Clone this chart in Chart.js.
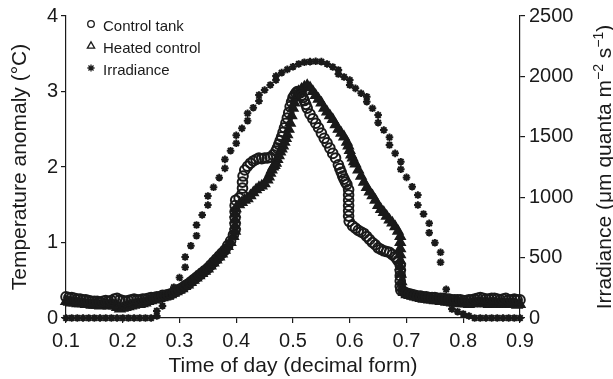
<!DOCTYPE html>
<html lang="en">
<head>
<meta charset="UTF-8">
<title>Temperature anomaly and irradiance</title>
<script src="https://cdn.jsdelivr.net/npm/chart.js@4/dist/chart.umd.min.js"></script>
<style>
  html, body { margin: 0; padding: 0; background: #fff; }
  .wrap { position: relative; width: 613px; height: 379px; }
</style>
</head>
<body>
<div class="wrap"><canvas id="chart"></canvas></div>
<script>
// values (time of day as decimal fraction)
const controlTime = [
  0.100, 0.105, 0.110, 0.115, 0.120, 0.125, 0.130, 0.135, 0.140, 0.145,
  0.150, 0.155, 0.160, 0.165, 0.170, 0.175, 0.180, 0.185, 0.190, 0.195,
  0.200, 0.205, 0.210, 0.215, 0.220, 0.225, 0.230, 0.235, 0.240, 0.245,
  0.250, 0.255, 0.260, 0.265, 0.270, 0.275, 0.280, 0.285, 0.290, 0.295,
  0.300, 0.305, 0.310, 0.315, 0.320, 0.325, 0.330, 0.335, 0.340, 0.345,
  0.350, 0.355, 0.360, 0.365, 0.370, 0.375, 0.380, 0.385, 0.390, 0.395,
  0.398, 0.398, 0.398, 0.398, 0.398, 0.399, 0.405, 0.410, 0.411, 0.411,
  0.412, 0.415, 0.420, 0.425, 0.430, 0.435, 0.440, 0.445, 0.450, 0.455,
  0.460, 0.465, 0.470, 0.4725, 0.475, 0.4775, 0.480, 0.4825, 0.485, 0.4875,
  0.490, 0.4925, 0.495, 0.4975, 0.500, 0.5025, 0.505, 0.5075, 0.510, 0.5125,
  0.515, 0.5175, 0.520, 0.5225, 0.525, 0.530, 0.535, 0.540, 0.545, 0.550,
  0.555, 0.560, 0.565, 0.570, 0.575, 0.580, 0.5825, 0.585, 0.5875, 0.590,
  0.5925, 0.595, 0.598, 0.598, 0.598, 0.598, 0.598, 0.598, 0.599, 0.605,
  0.610, 0.615, 0.620, 0.625, 0.630, 0.635, 0.640, 0.645, 0.650, 0.655,
  0.660, 0.665, 0.670, 0.675, 0.680, 0.6825, 0.685, 0.689, 0.689, 0.689,
  0.689, 0.689, 0.690, 0.695, 0.700,
  0.705, 0.710, 0.715, 0.720, 0.725, 0.730, 0.735, 0.740, 0.745, 0.750,
  0.755, 0.760, 0.765, 0.770, 0.775, 0.780, 0.785, 0.790, 0.795, 0.800,
  0.805, 0.810, 0.815, 0.820, 0.825, 0.830, 0.835, 0.840, 0.845, 0.850,
  0.855, 0.860, 0.865, 0.870, 0.875, 0.880, 0.885, 0.890, 0.895, 0.900
];
const controlTemp = [
  0.28, 0.27, 0.27, 0.26, 0.25, 0.25, 0.24, 0.24, 0.23, 0.22,
  0.22, 0.22, 0.21, 0.22, 0.23, 0.22, 0.23, 0.25, 0.26, 0.24,
  0.23, 0.22, 0.23, 0.24, 0.25, 0.24, 0.24, 0.25, 0.25, 0.26,
  0.27, 0.27, 0.28, 0.28, 0.30, 0.30, 0.31, 0.32, 0.34, 0.36,
  0.38, 0.40, 0.43, 0.45, 0.48, 0.51, 0.54, 0.57, 0.60, 0.63,
  0.66, 0.70, 0.74, 0.78, 0.82, 0.86, 0.90, 0.96, 1.02, 1.10,
  1.17, 1.25, 1.33, 1.41, 1.49, 1.56, 1.59, 1.64, 1.72, 1.80,
  1.88, 1.96, 2.01, 2.05, 2.08, 2.10, 2.12, 2.11, 2.12, 2.12,
  2.13, 2.16, 2.21, 2.25, 2.30, 2.35, 2.40, 2.46, 2.52, 2.58,
  2.65, 2.72, 2.80, 2.86, 2.92, 2.95, 2.98, 3.00, 3.00, 2.98,
  2.95, 2.92, 2.88, 2.83, 2.78, 2.70, 2.64, 2.58, 2.52, 2.45,
  2.38, 2.32, 2.25, 2.18, 2.12, 2.03, 1.98, 1.93, 1.88, 1.84,
  1.80, 1.77, 1.70, 1.63, 1.56, 1.49, 1.42, 1.35, 1.28, 1.22,
  1.19, 1.16, 1.14, 1.12, 1.08, 1.04, 1.00, 0.97, 0.93, 0.91,
  0.89, 0.88, 0.87, 0.84, 0.81, 0.79, 0.76, 0.70, 0.63, 0.56,
  0.49, 0.42, 0.37, 0.35, 0.33,
  0.32, 0.31, 0.30, 0.29, 0.29, 0.28, 0.28, 0.27, 0.27, 0.27,
  0.26, 0.26, 0.26, 0.25, 0.25, 0.24, 0.24, 0.24, 0.24, 0.23,
  0.23, 0.24, 0.24, 0.25, 0.26, 0.27, 0.26, 0.25, 0.25, 0.26,
  0.26, 0.25, 0.24, 0.25, 0.26, 0.24, 0.24, 0.25, 0.24, 0.24
];

const heatedTime = [
  0.100, 0.105, 0.110, 0.115, 0.120, 0.125, 0.130, 0.135, 0.140, 0.145,
  0.150, 0.155, 0.160, 0.165, 0.170, 0.175, 0.180, 0.185, 0.190, 0.195,
  0.200, 0.205, 0.210, 0.215, 0.220, 0.225, 0.230, 0.235, 0.240, 0.245,
  0.250, 0.255, 0.260, 0.265, 0.270, 0.275, 0.280, 0.285, 0.290, 0.295,
  0.300, 0.305, 0.310, 0.315, 0.320, 0.325, 0.330, 0.335, 0.340, 0.345,
  0.350, 0.355, 0.360, 0.365, 0.370, 0.375, 0.380, 0.385, 0.390, 0.395,
  0.398, 0.398, 0.398, 0.398, 0.399, 0.405, 0.410, 0.415, 0.420, 0.425,
  0.430, 0.435, 0.440, 0.445, 0.450, 0.455, 0.4575, 0.460, 0.4625, 0.465,
  0.4675, 0.470, 0.4725, 0.475, 0.4775, 0.480, 0.4825, 0.485, 0.4875, 0.490,
  0.4925, 0.495, 0.4975, 0.500, 0.5025, 0.505, 0.5075, 0.510, 0.515, 0.520,
  0.525, 0.530, 0.535, 0.540, 0.545, 0.550, 0.555, 0.560, 0.565, 0.570,
  0.575, 0.580, 0.585, 0.590, 0.595, 0.5975, 0.600, 0.6025, 0.605, 0.6075,
  0.610, 0.615, 0.620, 0.625, 0.630, 0.635, 0.640, 0.645, 0.650, 0.655,
  0.660, 0.665, 0.670, 0.675, 0.680, 0.685,
  0.689, 0.689, 0.689, 0.689, 0.689, 0.689, 0.690, 0.691, 0.692, 0.695,
  0.700, 0.705, 0.710, 0.715, 0.720, 0.725, 0.730, 0.735,
  0.740, 0.745, 0.750, 0.755, 0.760, 0.765, 0.770, 0.775, 0.780, 0.785,
  0.790, 0.795, 0.800, 0.805, 0.810, 0.815, 0.820, 0.825, 0.830, 0.835,
  0.840, 0.845, 0.850, 0.855, 0.860, 0.865, 0.870, 0.875, 0.880, 0.885,
  0.890, 0.895, 0.900
];
const heatedTemp = [
  0.22, 0.21, 0.20, 0.20, 0.19, 0.19, 0.19, 0.18, 0.18, 0.17,
  0.17, 0.17, 0.16, 0.17, 0.17, 0.16, 0.17, 0.16, 0.14, 0.12,
  0.13, 0.14, 0.15, 0.16, 0.17, 0.18, 0.18, 0.19, 0.20, 0.22,
  0.23, 0.24, 0.25, 0.26, 0.27, 0.28, 0.29, 0.31, 0.33, 0.35,
  0.37, 0.39, 0.42, 0.44, 0.47, 0.50, 0.53, 0.56, 0.59, 0.62,
  0.65, 0.69, 0.73, 0.77, 0.81, 0.85, 0.90, 0.95, 1.00, 1.08,
  1.15, 1.22, 1.30, 1.38, 1.45, 1.50, 1.53, 1.56, 1.58, 1.62,
  1.66, 1.70, 1.73, 1.75, 1.78, 1.83, 1.87, 1.92, 1.96, 2.00,
  2.02, 2.05, 2.10, 2.15, 2.20, 2.24, 2.28, 2.33, 2.38, 2.43,
  2.50, 2.58, 2.68, 2.78, 2.85, 2.92, 2.96, 3.00, 3.03, 3.06,
  3.08, 3.05, 3.00, 2.95, 2.90, 2.85, 2.78, 2.73, 2.68, 2.63,
  2.56, 2.50, 2.45, 2.40, 2.33, 2.28, 2.22, 2.16, 2.12, 2.07,
  2.04, 1.96, 1.88, 1.80, 1.73, 1.67, 1.62, 1.56, 1.49, 1.44,
  1.40, 1.35, 1.30, 1.26, 1.21, 1.15,
  1.08, 1.00, 0.92, 0.84, 0.76, 0.68, 0.58, 0.48, 0.40, 0.34,
  0.31, 0.30, 0.29, 0.28, 0.27, 0.26, 0.25, 0.25,
  0.24, 0.24, 0.23, 0.23, 0.22, 0.22, 0.21, 0.21, 0.20, 0.20,
  0.20, 0.19, 0.19, 0.19, 0.18, 0.19, 0.19, 0.20, 0.20, 0.19,
  0.19, 0.18, 0.19, 0.19, 0.18, 0.18, 0.19, 0.18, 0.18, 0.18,
  0.18, 0.17, 0.18
];

const irrTime = [
  0.10, 0.11, 0.12, 0.13, 0.14, 0.15, 0.16, 0.17, 0.18, 0.19,
  0.20, 0.21, 0.22, 0.23, 0.24, 0.25, 0.26, 0.26, 0.27, 0.28,
  0.29, 0.30, 0.31, 0.31, 0.32, 0.33, 0.33, 0.34, 0.35, 0.35,
  0.36, 0.37, 0.38, 0.38, 0.39, 0.40, 0.40, 0.41, 0.42, 0.42,
  0.43, 0.44, 0.44, 0.45, 0.46, 0.47, 0.47, 0.48, 0.49, 0.50,
  0.51, 0.52, 0.53, 0.54, 0.55, 0.56, 0.57, 0.58, 0.58, 0.59,
  0.60, 0.60, 0.61, 0.62, 0.63, 0.63, 0.64, 0.65, 0.65, 0.66,
  0.67, 0.67, 0.68, 0.69, 0.69, 0.70, 0.71, 0.72, 0.72, 0.73,
  0.74, 0.74, 0.75, 0.76, 0.76, 0.77, 0.78, 0.79, 0.80, 0.81,
  0.82, 0.83, 0.84, 0.85, 0.86, 0.87, 0.88, 0.89, 0.90
];
const irradiance = [
  0, 0, 0, 0, 0, 0, 0, 0, 0, 0,
  0, 0, 0, 0, 0, 0, 16, 58, 100, 180,
  255, 335, 420, 505, 598, 681, 770, 853, 935, 1010,
  1082, 1162, 1239, 1313, 1385, 1446, 1512, 1570, 1633, 1694,
  1741, 1796, 1846, 1887, 1929, 1970, 2003, 2031, 2058, 2080,
  2103, 2117, 2122, 2125, 2122, 2103, 2078, 2053, 2020, 1995,
  1970, 1929, 1901, 1860, 1832, 1791, 1736, 1680, 1617, 1556,
  1496, 1432, 1363, 1294, 1231, 1164, 1087, 1018, 935, 861,
  784, 706, 623, 544, 461, 237, 74, 52, 33, 17,
  0, 0, 0, 0, 0, 0, 0, 0, 0
];

const xTicks = [0.1, 0.2, 0.3, 0.4, 0.5, 0.6, 0.7, 0.8, 0.9];
const xTickLabels = ['0.1', '0.2', '0.3', '0.4', '0.5', '0.6', '0.7', '0.8', '0.9'];
const tempTicks = [0, 1, 2, 3, 4];
const irrTicks = [0, 500, 1000, 1500, 2000, 2500];

const FONT = '"Liberation Sans", Arial, Helvetica, sans-serif';
const INK = '#1a1a1a';

function points(xs, ys) {
  return xs.map((x, i) => ({ x: x, y: ys[i] }));
}

// legend sits inside the plot, top left, with open markers
const insideLegend = {
  id: 'insideLegend',
  afterDraw(chart) {
    const ctx = chart.ctx;
    const rows = [
      { style: 'circle', r: 3.3, fill: '#fff', y: 24, base: 31 },
      { style: 'triangle', r: 4.2, fill: '#fff', y: 46, base: 53 },
      { style: 'star', r: 3.6, fill: INK, y: 68, base: 75 }
    ];
    ctx.save();
    chart.data.datasets.forEach((ds, i) => {
      const row = rows[i];
      ctx.fillStyle = row.fill;
      ctx.strokeStyle = INK;
      ctx.lineWidth = 1.3;
      Chart.helpers.drawPoint(ctx, { pointStyle: row.style, radius: row.r, borderWidth: 1.3, rotation: 0 }, 91, row.y);
      ctx.fillStyle = INK;
      ctx.font = '15px ' + FONT;
      ctx.textBaseline = 'alphabetic';
      ctx.textAlign = 'left';
      ctx.fillText(ds.label, 103, row.base);
    });
    ctx.restore();
  }
};

// right axis title reads bottom-to-top, with superscripts
const rightTitle = {
  id: 'rightTitle',
  afterDraw(chart) {
    const ctx = chart.ctx;
    const area = chart.chartArea;
    const parts = [
      { t: 'Irradiance (\u03bcm quanta m', sup: false },
      { t: '\u22122', sup: true },
      { t: ' s', sup: false },
      { t: '\u22121', sup: true },
      { t: ')', sup: false }
    ];
    const big = '21px ' + FONT;
    const small = '14px ' + FONT;
    ctx.save();
    let total = 0;
    parts.forEach(p => {
      ctx.font = p.sup ? small : big;
      p.w = ctx.measureText(p.t).width;
      total += p.w;
    });
    ctx.translate(611, (area.top + area.bottom) / 2);
    ctx.rotate(-Math.PI / 2);
    ctx.fillStyle = INK;
    ctx.textBaseline = 'alphabetic';
    ctx.textAlign = 'left';
    let x = -total / 2;
    parts.forEach(p => {
      ctx.font = p.sup ? small : big;
      ctx.fillText(p.t, x, p.sup ? -8 : 0);
      x += p.w;
    });
    ctx.restore();
  }
};

const axisLine = { display: true, color: INK, width: 1.2 };
const tickGrid = { drawOnChartArea: false, drawTicks: true, tickLength: 5, color: INK, lineWidth: 1.2 };
const tickFont = { family: FONT, size: 20 };

new Chart(document.getElementById('chart'), {
  type: 'scatter',
  data: {
    datasets: [
      {
        label: 'Control tank',
        data: points(controlTime, controlTemp),
        yAxisID: 'y',
        pointStyle: 'circle',
        pointRadius: 4.8,
        pointBorderWidth: 2,
        pointBorderColor: INK,
        pointBackgroundColor: 'rgba(0,0,0,0)',
        clip: false
      },
      {
        label: 'Heated control',
        data: points(heatedTime, heatedTemp),
        yAxisID: 'y',
        pointStyle: 'triangle',
        pointRadius: 5.8,
        pointBorderWidth: 1.4,
        pointBorderColor: INK,
        pointBackgroundColor: INK,
        clip: false
      },
      {
        label: 'Irradiance',
        data: points(irrTime, irradiance),
        yAxisID: 'y1',
        pointStyle: 'star',
        pointRadius: 3.8,
        pointBorderWidth: 2,
        pointBorderColor: INK,
        pointBackgroundColor: INK,
        clip: false
      }
    ]
  },
  options: {
    responsive: true,
    maintainAspectRatio: false,
    devicePixelRatio: 1,
    animation: false,
    events: [],
    layout: { padding: { top: 16, right: 0, bottom: 0, left: 0 } },
    plugins: {
      legend: { display: false },
      tooltip: { enabled: false }
    },
    scales: {
      x: {
        type: 'linear',
        position: 'bottom',
        min: 0.1,
        max: 0.9,
        afterBuildTicks: s => { s.ticks = xTicks.map(v => ({ value: v })); },
        afterFit: s => { s.height = 61; },
        ticks: { font: tickFont, color: INK, padding: 6, maxRotation: 0, callback: (v, i) => xTickLabels[i] },
        grid: tickGrid,
        border: axisLine,
        title: {
          display: true,
          text: 'Time of day (decimal form)',
          font: { family: FONT, size: 21 },
          color: INK,
          padding: { top: 0, bottom: 0 }
        }
      },
      y: {
        type: 'linear',
        position: 'left',
        min: 0,
        max: 4,
        afterBuildTicks: s => { s.ticks = tempTicks.map(v => ({ value: v })); },
        afterFit: s => { s.width = 66; },
        ticks: { font: tickFont, color: INK, padding: 3, callback: v => String(v) },
        grid: tickGrid,
        border: axisLine,
        title: {
          display: true,
          text: 'Temperature anomaly (\u00b0C)',
          font: { family: FONT, size: 21 },
          color: INK,
          padding: { top: 8, bottom: 0 }
        }
      },
      y1: {
        type: 'linear',
        position: 'right',
        min: 0,
        max: 2500,
        afterBuildTicks: s => { s.ticks = irrTicks.map(v => ({ value: v })); },
        afterFit: s => { s.width = 93; },
        ticks: { font: tickFont, color: INK, padding: 4, callback: v => String(v) },
        grid: tickGrid,
        border: axisLine
      }
    }
  },
  plugins: [insideLegend, rightTitle]
});
</script>
</body>
</html>
